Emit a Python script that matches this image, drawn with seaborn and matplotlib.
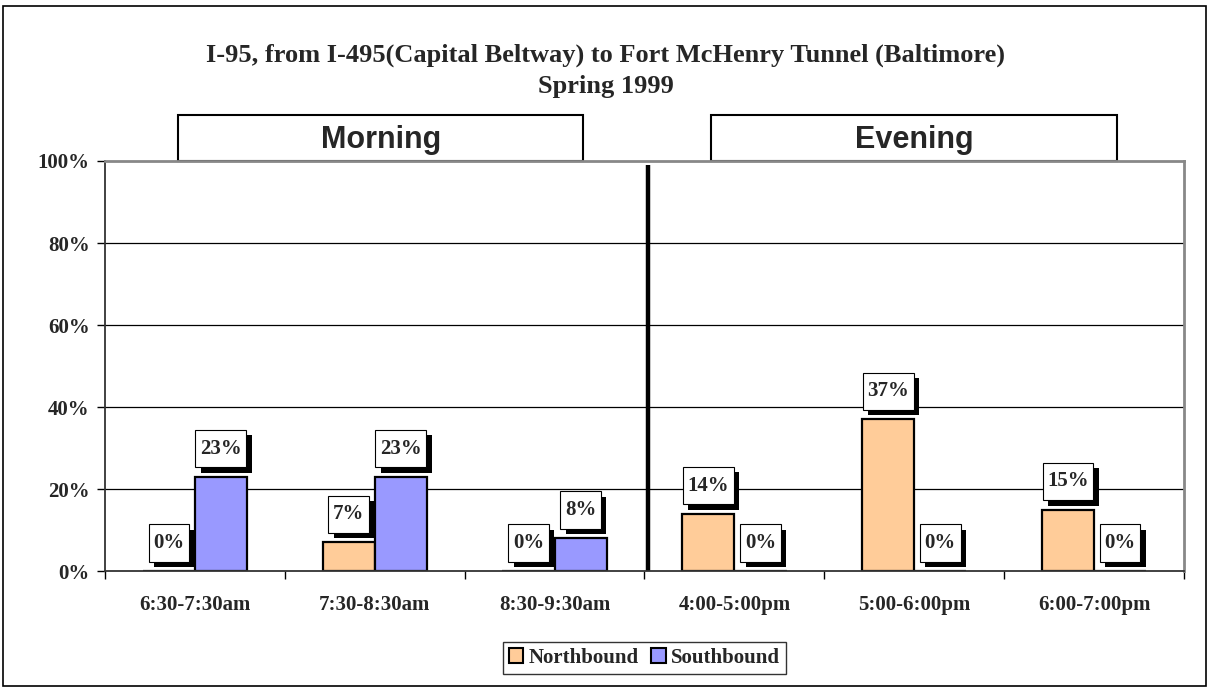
import matplotlib
matplotlib.use("Agg")
import matplotlib.pyplot as plt
import matplotlib.patheffects as pe
from matplotlib.patches import Rectangle, Patch
from matplotlib.path import Path
from matplotlib.transforms import blended_transform_factory
import seaborn as sns
import pandas as pd

# Share of runs by time period and direction
periods = ["6:30-7:30am", "7:30-8:30am", "8:30-9:30am",
           "4:00-5:00pm", "5:00-6:00pm", "6:00-7:00pm"]
northbound = [0, 7, 0, 14, 37, 15]
southbound = [23, 23, 8, 0, 0, 0]
directions = ["Northbound", "Southbound"]
colors = ["#FFCC99", "#9999FF"]
yticks = [0, 20, 40, 60, 80, 100]

df = pd.DataFrame({
    "period": periods * 2,
    "pct": northbound + southbound,
    "direction": [directions[0]] * len(periods) + [directions[1]] * len(periods),
})

sns.set_theme(style="white")
serif = "Liberation Serif"
sans = "Liberation Sans"

fig = plt.figure(figsize=(12.09, 6.88), dpi=100)
ax = fig.add_axes([0.0868, 0.170, 0.8925, 0.596])

sns.barplot(data=df, x="period", y="pct", hue="direction", order=periods,
            hue_order=directions, palette=colors, width=0.58,
            edgecolor="black", linewidth=1.6, saturation=1, ax=ax,
            legend=False)

ax.set_ylim(0, 100)
ax.set_xlim(-0.5, len(periods) - 0.5)
ax.set_yticks(yticks)
ax.set_yticklabels([f"{v}%" for v in yticks], fontfamily=serif,
                   fontweight="bold", fontsize=15)
ax.set_xticks(range(len(periods)))
ax.set_xticklabels(periods, fontfamily=serif, fontweight="bold", fontsize=15)
ax.set_xticks([i - 0.5 for i in range(len(periods) + 1)], minor=True)
ax.tick_params(axis="x", which="major", length=0, pad=17)
ax.tick_params(axis="x", which="minor", length=6, width=1, color="black",
               direction="out", bottom=True)
ax.tick_params(axis="y", length=6, width=1, color="black", direction="out",
               left=True, pad=5)
ax.set_xlabel("")
ax.set_ylabel("")

# Horizontal gridlines
for v in yticks[1:-1]:
    ax.axhline(v, color="black", lw=0.9, zorder=0)

for side in ["left", "bottom"]:
    ax.spines[side].set_color("#333333")
    ax.spines[side].set_linewidth(1.3)
for side in ["top", "right"]:
    ax.spines[side].set_color("#888888")
    ax.spines[side].set_linewidth(2)


def label_box(x0, y0, width, height, mutation_size):
    """Rectangle with a narrow side pad and a taller top/bottom pad."""
    px = 0.22 * mutation_size
    py = 0.42 * mutation_size
    x0, y0 = x0 - px, y0 - py
    x1, y1 = x0 + width + 2 * px, y0 + height + 2 * py
    return Path([(x0, y0), (x1, y0), (x1, y1), (x0, y1), (x0, y0)],
                closed=True)


# Value labels with drop-shadow boxes
shadow = [pe.SimplePatchShadow(offset=(3.8, -3.8), shadow_rgbFace="black",
                               alpha=1.0), pe.Normal()]
for cont, vals in zip(ax.containers, [northbound, southbound]):
    anns = ax.bar_label(cont, labels=[f"{v}%" for v in vals], padding=13,
                        fontfamily=serif, fontweight="bold", fontsize=15,
                        bbox=dict(boxstyle=label_box, fc="white",
                                  ec="black", lw=0.8))
    for a in anns:
        a.get_bbox_patch().set_path_effects(shadow)

# Morning / evening divider
ax.plot([2.52, 2.52], [0, 99], color="black", lw=3.2, solid_capstyle="butt")

# Section header boxes above the plot
trans = blended_transform_factory(ax.transData, ax.transAxes)
for label, x0, x1 in [("Morning", -0.094, 2.16), ("Evening", 2.87, 5.13)]:
    ax.add_patch(Rectangle((x0, 1.0), x1 - x0, 0.112, transform=trans,
                           fc="white", ec="black", lw=1.5, clip_on=False))
    ax.text((x0 + x1) / 2, 1.051, label, transform=trans, ha="center",
            va="center", fontfamily=sans, fontweight="bold", fontsize=22)

fig.text(0.501, 1 - 55 / 688,
         "I-95, from I-495(Capital Beltway) to Fort McHenry Tunnel (Baltimore)",
         ha="center", va="center", fontfamily=serif, fontweight="bold",
         fontsize=19)
fig.text(0.501, 1 - 87 / 688, "Spring 1999", ha="center", va="center",
         fontfamily=serif, fontweight="bold", fontsize=19)

handles = [Patch(facecolor=c, edgecolor="black", lw=1.5) for c in colors]
leg = fig.legend(handles, directions, loc="center", bbox_to_anchor=(0.533, 1 - 658 / 688),
                 ncol=2, frameon=True, fancybox=False, handlelength=0.7,
                 handleheight=0.7, handletextpad=0.25, columnspacing=0.6,
                 borderpad=0.3, prop=dict(family=serif, weight="bold", size=15))
leg.get_frame().set_edgecolor("black")
leg.get_frame().set_linewidth(1.0)

# Outer chart border
fig.patches.append(Rectangle((3 / 1209, 2 / 688), 1203 / 1209, 680 / 688,
                             transform=fig.transFigure, fill=False,
                             ec="black", lw=1.2))

fig.savefig("out.png", dpi=100, facecolor="white")
